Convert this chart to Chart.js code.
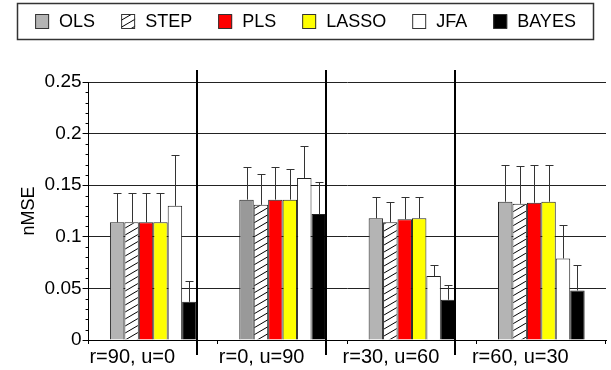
<!DOCTYPE html>
<html>
<head>
<meta charset="utf-8">
<script src="https://cdn.jsdelivr.net/npm/chart.js@4/dist/chart.umd.min.js"></script>
<style>
  body { margin: 0; background: #fff; }
  #wrap { position: relative; width: 611px; height: 370px; }
</style>
</head>
<body>
<div id="wrap"><canvas id="nmseChart" width="611" height="370"></canvas></div>
<script>
// groups along the x axis
const categories = ['r=90, u=0', 'r=0, u=90', 'r=30, u=60', 'r=60, u=30'];
const methods = ['OLS', 'STEP', 'PLS', 'LASSO', 'JFA', 'BAYES'];

// mean nMSE per method
const ols = [0.114, 0.136, 0.118, 0.134];
const step = [0.114, 0.131, 0.114, 0.132];
const pls = [0.114, 0.136, 0.117, 0.133];
const lasso = [0.114, 0.136, 0.118, 0.134];
const jfa = [0.130, 0.157, 0.062, 0.079];
const bayes = [0.037, 0.122, 0.039, 0.048];

// upper error (sd) per method
const olsErr = [0.028, 0.032, 0.021, 0.036];
const stepErr = [0.028, 0.030, 0.020, 0.037];
const plsErr = [0.028, 0.032, 0.022, 0.037];
const lassoErr = [0.028, 0.030, 0.021, 0.036];
const jfaErr = [0.049, 0.031, 0.011, 0.032];
const bayesErr = [0.020, 0.031, 0.014, 0.025];

const yTicksMax = 0.25;

const FONT = "'Liberation Sans', Arial, Helvetica, sans-serif";

function makeHatch() {
    let c = document.createElement('canvas');
    let w = 12, h = 7;
    c.width = w;
    c.height = h;
    let g = c.getContext('2d');
    g.fillStyle = '#fff';
    g.fillRect(0, 0, w, h);
    g.strokeStyle = '#000';
    g.lineWidth = 1;
    for (let n = -1; n <= 1; n++) {
        g.beginPath();
        g.moveTo(0, h + n * h);
        g.lineTo(w, n * h);
        g.stroke();
    }
    return g.createPattern(c, 'repeat');
}

const hatch = makeHatch();

const fills = [
    ['#b4b4b4', '#999999', '#b4b4b4', '#b4b4b4'],
    hatch,
    '#ff0000',
    '#ffff00',
    '#ffffff',
    '#000000'
];
const swatchFills = ['#b4b4b4', hatch, '#ff0000', '#ffff00', '#ffffff', '#000000'];

const values = [ols, step, pls, lasso, jfa, bayes];
const errors = [olsErr, stepErr, plsErr, lassoErr, jfaErr, bayesErr];

const errorBars = {
    id: 'errorBars',
    afterDatasetsDraw(chart) {
        const ctx = chart.ctx;
        const y = chart.scales.y;
        ctx.save();
        ctx.strokeStyle = '#333';
        ctx.lineWidth = 1;
        chart.data.datasets.forEach((ds, i) => {
            chart.getDatasetMeta(i).data.forEach((bar, j) => {
                let x = Math.round(bar.x) + 0.5;
                let top = Math.round(y.getPixelForValue(ds.data[j] + ds.errors[j])) + 0.5;
                ctx.beginPath();
                ctx.moveTo(x, bar.y);
                ctx.lineTo(x, top);
                ctx.moveTo(x - 4, top);
                ctx.lineTo(x + 4, top);
                ctx.stroke();
            });
        });
        ctx.restore();
    }
};

const decorations = {
    id: 'decorations',
    afterDraw(chart) {
        const ctx = chart.ctx;
        const area = chart.chartArea;
        const y = chart.scales.y;
        ctx.save();

        // minor ticks on the y axis
        ctx.strokeStyle = '#000';
        ctx.lineWidth = 1;
        y.ticks.forEach(t => {
            if (Math.round(t.value * 100) % 5 !== 0) {
                let py = Math.round(y.getPixelForValue(t.value)) + 0.5;
                ctx.beginPath();
                ctx.moveTo(area.left - 3, py);
                ctx.lineTo(area.left, py);
                ctx.stroke();
            }
        });

        // separators after each group
        const last = chart.getDatasetMeta(methods.length - 1).data;
        ctx.lineWidth = 2;
        for (let i = 0; i < categories.length - 1; i++) {
            let x = Math.round(last[i].x + last[i].width / 2);
            ctx.beginPath();
            ctx.moveTo(x, area.top - 12);
            ctx.lineTo(x, area.bottom + 15);
            ctx.stroke();
        }

        // legend in a box
        ctx.font = '18px ' + FONT;
        ctx.textBaseline = 'middle';
        let box = 14, gap = 10, spacing = 26;
        let total = 0;
        methods.forEach((m, i) => {
            total += box + gap + ctx.measureText(m).width;
            if (i < methods.length - 1) total += spacing;
        });
        let x = (chart.width - total) / 2;
        methods.forEach((m, i) => {
            ctx.fillStyle = swatchFills[i];
            ctx.fillRect(x, 14.5, box, box);
            ctx.strokeStyle = '#333';
            ctx.lineWidth = 1;
            ctx.strokeRect(x + 0.5, 14.5, box - 1, box);
            ctx.fillStyle = '#000';
            ctx.fillText(m, x + box + gap, 22);
            x += box + gap + ctx.measureText(m).width + spacing;
        });
        ctx.strokeStyle = '#333';
        ctx.lineWidth = 1.5;
        ctx.strokeRect(17.5, 3.5, 576, 36);
        ctx.restore();
    }
};

function renderChart() {
    const ctx = document.getElementById('nmseChart').getContext('2d');
    new Chart(ctx, {
        type: 'bar',
        data: {
            labels: categories,
            datasets: methods.map((m, i) => ({
                label: m,
                data: values[i],
                errors: errors[i],
                backgroundColor: fills[i],
                borderColor: '#222',
                borderWidth: 1,
                barPercentage: 1,
                categoryPercentage: 0.67
            }))
        },
        options: {
            responsive: false,
            animation: false,
            layout: { padding: { top: 82, right: 5, left: 0, bottom: 0 } },
            plugins: {
                legend: { display: false },
                tooltip: { enabled: false }
            },
            scales: {
                x: {
                    grid: {
                        offset: true,
                        drawOnChartArea: false,
                        tickLength: 4,
                        color: c => c.index === categories.length ? 'rgba(0,0,0,0)' : '#000'
                    },
                    border: { color: '#000', width: 1 },
                    ticks: {
                        color: '#000',
                        font: { family: FONT, size: 20, lineHeight: 1 },
                        padding: 3,
                        labelOffset: -21,
                        maxRotation: 0,
                        autoSkip: false
                    }
                },
                y: {
                    min: 0,
                    max: yTicksMax,
                    grid: {
                        color: c => Math.round(c.tick.value * 100) % 5 === 0 ? '#222' : 'rgba(0,0,0,0)',
                        tickColor: c => Math.round(c.tick.value * 100) % 5 === 0 ? '#000' : 'rgba(0,0,0,0)',
                        tickLength: 6
                    },
                    border: { color: '#000', width: 1 },
                    ticks: {
                        stepSize: 0.01,
                        autoSkip: false,
                        color: '#000',
                        padding: 1,
                        font: { family: FONT, size: 19 },
                        callback: v => Math.round(v * 100) % 5 === 0 ? String(Math.round(v * 100) / 100) : ''
                    },
                    title: {
                        display: true,
                        text: 'nMSE',
                        color: '#000',
                        font: { family: FONT, size: 18 },
                        padding: { top: 18, bottom: 4 }
                    }
                }
            }
        },
        plugins: [errorBars, decorations]
    });
}

renderChart();
</script>
</body>
</html>
